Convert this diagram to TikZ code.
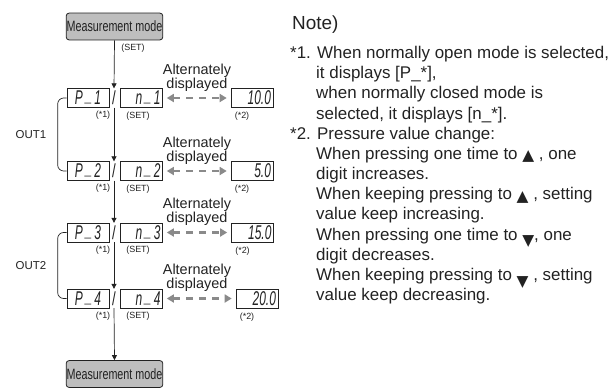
\documentclass[tikz,border=0pt]{standalone}
\usepackage{fontspec}
\usepackage{graphicx}
\setmainfont{Liberation Sans}
\newfontfamily\symfont{DejaVu Sans}
\usetikzlibrary{arrows.meta,calc}
\definecolor{ink}{HTML}{222222}
\definecolor{boxgray}{HTML}{BEBEBE}
\definecolor{dashgray}{HTML}{8A8A8A}
\newcommand{\segtxt}[1]{\scalebox{0.6}[1]{#1}}
\newcommand{\up}{{\symfont\fontsize{15.5}{15}\selectfont\raisebox{-1.5pt}{▲}}}
\newcommand{\down}{{\symfont\fontsize{15.5}{15}\selectfont\raisebox{-6pt}{▼}}}
\begin{document}
\begin{tikzpicture}[x=1bp,y=-1bp,
  every node/.style={text=ink,inner sep=0pt},
  modebox/.style={draw=ink,fill=boxgray,rounded corners=3,line width=0.8,
    minimum width=97,minimum height=27,
    font=\fontsize{15}{15}\selectfont},
  disp/.style={draw=ink,line width=0.8,minimum height=19,inner xsep=2,
    text width=38,font=\fontsize{20}{20}\selectfont\itshape},
  slashn/.style={minimum width=8,minimum height=19,font=\fontsize{19}{19}\selectfont},
  small/.style={font=\fontsize{9}{10}\selectfont},
  alt/.style={align=center,font=\fontsize{14.5}{11}\selectfont},
  outlbl/.style={font=\fontsize{11.5}{12}\selectfont},
  arr/.style={draw=ink,line width=0.7,-{Triangle[length=5,width=5]}},
  dasharr/.style={draw=dashgray,line width=2.4,dash pattern=on 7 off 6,
    {Triangle[length=7,width=8]}-{Triangle[length=7,width=8]}},
  bracket/.style={draw=ink,line width=0.7,rounded corners=6},
  note/.style={anchor=base west,font=\fontsize{17}{20}\selectfont}]
\useasboundingbox (0,0) rectangle (611,387);

% mode boxes
\node[modebox] (top) at (114.5,26.5) {\scalebox{0.72}[1]{Measurement mode}};
\node[modebox] (bot) at (114.5,374) {\scalebox{0.72}[1]{Measurement mode}};
\node[small] (settop) at (133,48) {(SET)};

% rows
\foreach \i/\y/\v/\vx in {1/98/10.0/252,2/171/5.0/252,3/232.5/15.0/252.5,4/298.5/20.0/257}{
  \node[disp,align=center] (P\i) at (88,\y) {\segtxt{P\hspace{4pt}\raisebox{3pt}{\_}\hspace{4pt}\i}};
  \node[slashn] (s\i) at (114,\y) {\scalebox{0.7}[1]{/}};
  \node[disp,align=right] (n\i) at (141.5,\y) {\segtxt{n\hspace{4pt}\raisebox{3pt}{\_}\hspace{4pt}\i}};
  \node[disp,align=right] (v\i) at (\vx,\y) {\segtxt{\v}};
  \node[alt] (a\i) at (197,\y-20.5) {Alternately\\displayed};
  \node[small] (k\i) at (103,\y+17.5) {(*1)};
  \node[small] (t\i) at (138,\y+18) {(SET)};
  \node[small] (w\i) at ($(v\i.south)+(-10,8.5)$) {(*2)};
  \draw[dasharr] ($(n\i.east)+(4,0)$) -- ($(v\i.west)+(-4,0)$);
}

% vertical arrows
\draw[arr] (top.south) -- (s1.north);
\draw[arr] (s1.south) -- (s2.north);
\draw[arr] (s2.south) -- (s3.north);
\draw[arr] (s3.south) -- (s4.north);
\draw[arr] (s4.south) -- (bot.north);

% brackets
\draw[bracket] (P1.west) -- ++(-9,0) |- (P2.west);
\draw[bracket] (P3.west) -- ++(-9,0) |- (P4.west);
\node[outlbl] (out1) at (31,134.5) {OUT1};
\node[outlbl] (out2) at (31,265.5) {OUT2};

% notes
\node[anchor=base west,font=\fontsize{19}{20}\selectfont] (nt) at (292,29) {Note)};
\node[note] (l1) at (290,58.5) {*1. When normally open mode is selected,};
\node[note] (l2) at (316,78.7) {it displays [P\_*],};
\node[note] (l3) at (316,98.8) {when normally closed mode is};
\node[note] (l4) at (316,119) {selected, it displays [n\_*].};
\node[note] (l5) at (290,139.2) {*2. Pressure value change:};
\node[note] (l6) at (316,159.3) {When pressing one time to \up\ , one};
\node[note] (l7) at (316,179.5) {digit increases.};
\node[note] (l8) at (316,199.7) {When keeping pressing to \up\ , setting};
\node[note] (l9) at (316,219.9) {value keep increasing.};
\node[note] (l10) at (316,240) {When pressing one time to \down, one};
\node[note] (l11) at (316,260.2) {digit decreases.};
\node[note] (l12) at (316,280.4) {When keeping pressing to \down\ , setting};
\node[note] (l13) at (316,300.5) {value keep decreasing.};
\end{tikzpicture}
\end{document}
